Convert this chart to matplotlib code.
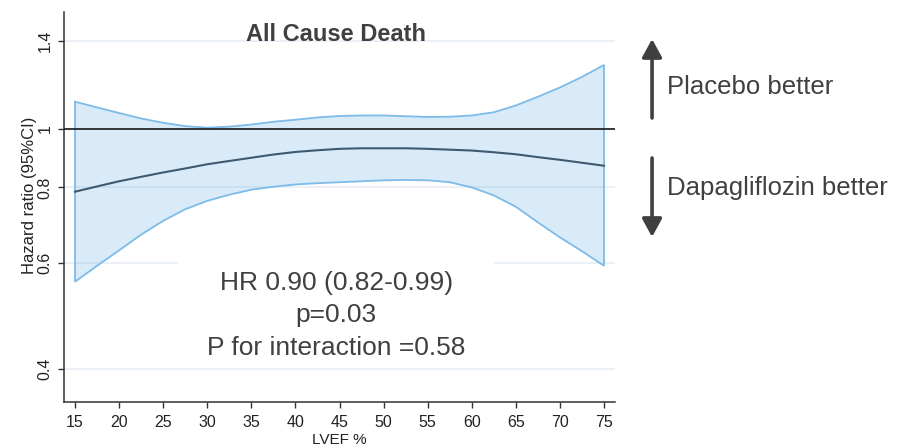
import matplotlib.pyplot as plt
from matplotlib.patches import Rectangle

# LVEF (%) and hazard ratio with 95% CI
lvef = [15, 17.5, 20, 22.5, 25, 27.5, 30, 32.5, 35, 37.5, 40, 42.5, 45,
        47.5, 50, 52.5, 55, 57.5, 60, 62.5, 65, 67.5, 70, 72.5, 75]
hr = [0.787, 0.803, 0.819, 0.833, 0.847, 0.860, 0.874, 0.885, 0.896, 0.907,
      0.916, 0.922, 0.927, 0.929, 0.929, 0.929, 0.927, 0.924, 0.921, 0.915,
      0.908, 0.898, 0.889, 0.879, 0.869]
ci_upper = [1.110, 1.086, 1.063, 1.041, 1.024, 1.011, 1.005, 1.009, 1.017,
            1.028, 1.036, 1.045, 1.051, 1.053, 1.053, 1.050, 1.047, 1.048,
            1.053, 1.066, 1.094, 1.131, 1.172, 1.220, 1.277]
ci_lower = [0.558, 0.593, 0.629, 0.668, 0.704, 0.736, 0.760, 0.778, 0.793,
            0.802, 0.809, 0.813, 0.816, 0.819, 0.822, 0.823, 0.822, 0.816,
            0.800, 0.776, 0.743, 0.700, 0.661, 0.627, 0.593]

x_ticks = [15, 20, 25, 30, 35, 40, 45, 50, 55, 60, 65, 70, 75]
y_ticks = [0.4, 0.6, 0.8, 1, 1.4]
y_tick_labels = ["0.4", "0.6", "0.8", "1", "1.4"]

title = "All Cause Death"
stats_lines = ["HR 0.90 (0.82-0.99)", "p=0.03", "P for interaction =0.58"]

plt.rcParams['font.family'] = ['Liberation Sans', 'DejaVu Sans']
txt_color = "#404040"

fig = plt.figure(figsize=(9.05, 4.47), dpi=100)
ax = fig.add_axes([0.0707, 0.1007, 0.6089, 0.8725])

ax.set_yscale('log')
ax.set_xlim(13.75, 76.25)
ax.set_ylim(0.3525, 1.5635)

# grid only on y, very light
ax.set_axisbelow(True)
ax.yaxis.grid(True, color="#e8eff5", linewidth=1.3)
ax.xaxis.grid(False)

# white box behind the stats text hides the grid there
ax.add_patch(Rectangle((0.207, 0.103), 0.573, 0.30, transform=ax.transAxes,
                       facecolor="white", edgecolor="none", zorder=0.8))

# confidence band
band_x = lvef + lvef[::-1]
band_y = ci_upper + ci_lower[::-1]
ax.fill(band_x, band_y, facecolor="#78b9e6", alpha=0.28, edgecolor="none",
        zorder=1)
ax.fill(band_x, band_y, facecolor="none", edgecolor="#7dbbe8",
        linewidth=1.3, zorder=2)

# reference line at 1 and estimate
ax.axhline(1, color="#1a1a1a", linewidth=1.2, zorder=3)
ax.plot(lvef, hr, color="#3e5a72", linewidth=1.5, zorder=4)

# axes styling
ax.spines["top"].set_visible(False)
ax.spines["right"].set_visible(False)
ax.spines["left"].set_color("#333333")
ax.spines["bottom"].set_color("#333333")
ax.spines["left"].set_linewidth(1.1)
ax.spines["bottom"].set_linewidth(1.1)

ax.set_xticks(x_ticks)
ax.set_yticks(y_ticks)
ax.set_yticklabels(y_tick_labels)
ax.yaxis.set_minor_locator(plt.NullLocator())
ax.tick_params(axis='both', which='major', length=4.5, width=1,
               color="#333333", labelcolor="#222222", labelsize=11.5)
ax.tick_params(axis='x', pad=5)
ax.tick_params(axis='y', pad=3.5)
for lab in ax.get_yticklabels():
    lab.set_rotation(90)
    lab.set_va('center')

ax.set_ylabel("Hazard ratio (95%CI)", fontsize=12, color="#222222")
ax.yaxis.set_label_coords(-0.049, 0.53)
ax.set_xlabel("LVEF %", fontsize=11, color="#222222")
ax.xaxis.set_label_coords(0.5, -0.08)

# title inside the plot
ax.text(0.494, 0.926, title, transform=ax.transAxes, ha="center",
        va="baseline", fontsize=17, fontweight="bold", color=txt_color)

# stats text
for line, yy in zip(stats_lines, [0.287, 0.205, 0.1205]):
    ax.text(0.494, yy, line, transform=ax.transAxes, ha="center",
            va="baseline", fontsize=19, color=txt_color, zorder=5)

# arrows and labels on the right
arrow_props = dict(arrowstyle="-|>,head_length=0.55,head_width=0.3",
                   color=txt_color, lw=2.6, mutation_scale=20,
                   shrinkA=0, shrinkB=0)
ax.annotate("", xy=(0.7205, 1 - 39 / 447), xytext=(0.7205, 1 - 118 / 447),
            xycoords="figure fraction", textcoords="figure fraction",
            arrowprops=arrow_props, annotation_clip=False)
ax.annotate("", xy=(0.7205, 1 - 237 / 447), xytext=(0.7205, 1 - 158 / 447),
            xycoords="figure fraction", textcoords="figure fraction",
            arrowprops=arrow_props, annotation_clip=False)

fig.text(0.737, 1 - 87 / 447, "Placebo better", ha="left", va="center",
         fontsize=18.5, color=txt_color)
fig.text(0.737, 1 - 188 / 447, "Dapagliflozin better", ha="left",
         va="center", fontsize=18.5, color=txt_color)

plt.savefig("out.png", dpi=100)
